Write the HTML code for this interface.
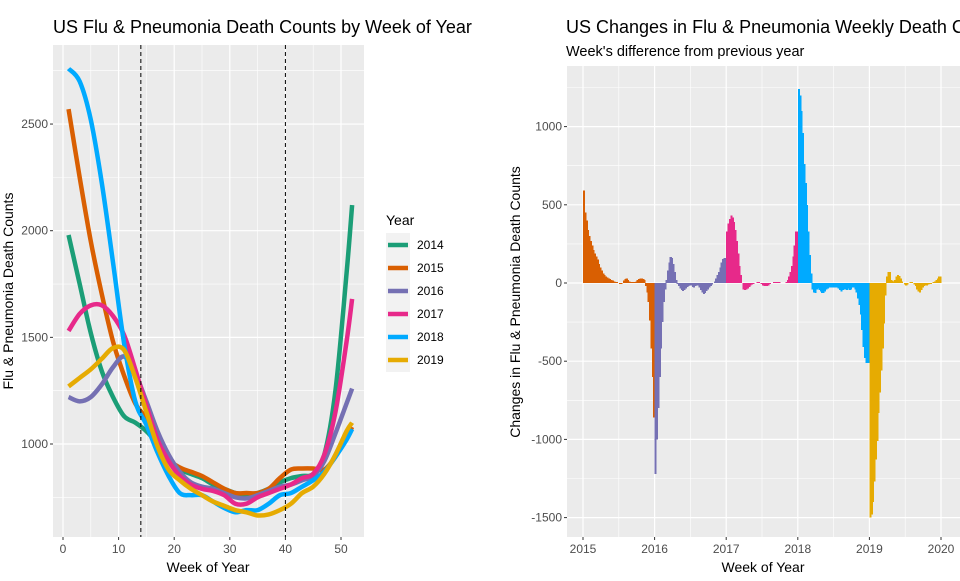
<!DOCTYPE html>
<html><head><meta charset="utf-8"><style>
body{margin:0;background:#fff;width:960px;height:576px;overflow:hidden;font-family:"Liberation Sans",Arial,sans-serif}
svg text{font-family:"Liberation Sans",Arial,sans-serif}
</style></head><body>
<svg id="chart" width="960" height="576" viewBox="0 0 960 576" xmlns="http://www.w3.org/2000/svg">
<g id="left"></g>
<g id="right"></g>
</svg>
<script>
const weeks=[1,3,5,7,9,11,13,15,17,19,21,23,25,27,29,31,33,35,37,39,41,43,45,47,49,51,52];
const years=["2014","2015","2016","2017","2018","2019"];
const v2014=[1980,1750,1520,1340,1220,1130,1100,1060,1000,920,880,860,840,810,790,770,760,770,790,820,840,850,860,950,1250,1800,2120];
const v2015=[2570,2250,1950,1700,1480,1320,1190,1120,1030,930,890,870,850,820,790,770,770,770,790,840,880,885,885,880,940,1030,1080];
const v2016=[1220,1200,1220,1280,1360,1410,1330,1200,1060,950,870,820,800,790,770,750,745,760,780,800,810,830,850,920,1050,1190,1260];
const v2017=[1530,1610,1650,1650,1600,1510,1350,1180,1020,920,850,810,790,780,760,720,720,750,770,790,810,840,860,950,1150,1480,1680];
const v2018=[2760,2700,2520,2220,1850,1470,1200,1090,960,850,770,760,760,730,700,680,690,690,720,760,770,800,830,870,940,1020,1070];
const v2019=[1270,1310,1350,1400,1450,1440,1310,1150,990,880,830,790,760,730,710,690,680,665,670,690,720,770,800,860,950,1060,1100];
const xTicks=[0,10,20,30,40,50];
const yTicks=[1000,1500,2000,2500];
const vlines=[14,40];

const diffYears=[2015,2016,2017,2018,2019];
const d2015=[590,450,400,340,300,270,240,210,190,170,150,120,100,80,60,50,40,35,30,25,20,15,10,5,5,0,-5,-5,0,15,25,30,20,10,5,5,5,5,10,20,25,30,30,25,20,-20,-60,-120,-240,-420,-600,-860];
const d2016=[-1220,-1000,-800,-600,-420,-250,-120,-40,20,80,130,165,160,120,70,20,-5,-20,-35,-45,-50,-45,-35,-25,-20,-15,-15,-25,-30,-20,-15,-15,-30,-45,-60,-70,-65,-50,-40,-30,-20,-10,0,10,30,50,70,100,130,155,160,160];
const d2017=[330,380,410,430,420,390,340,270,190,110,50,0,-40,-45,-40,-35,-25,-15,-10,-5,0,0,5,5,0,-5,-15,-20,-20,-20,-15,-5,0,0,5,5,5,5,5,0,0,0,0,5,20,40,70,110,170,240,330,330];
const d2018=[1240,1200,1100,960,760,640,500,330,180,60,-40,-60,-65,-40,-35,-45,-55,-65,-65,-55,-40,-35,-30,-30,-30,-30,-30,-30,-30,-35,-45,-55,-45,-40,-40,-45,-35,-45,-40,-30,-30,-40,-60,-100,-140,-200,-300,-410,-480,-510,-510,-510];
const d2019=[-1500,-1480,-1400,-1270,-1130,-1010,-830,-700,-560,-420,-260,-80,40,70,70,20,15,10,20,40,50,45,30,10,0,-10,-15,-10,0,5,5,0,-10,-20,-40,-55,-60,-45,-30,-20,-15,-15,-10,-5,-5,0,5,10,20,30,40,40];
const rxTicks=[2015,2016,2017,2018,2019,2020];
const ryTicks=[-1500,-1000,-500,0,500,1000];

const NS="http://www.w3.org/2000/svg";
function mk(p,t,a){const e=document.createElementNS(NS,t);for(const k in a)e.setAttribute(k,a[k]);p.appendChild(e);return e;}
const colors=["#1b9e77","#d95f02","#7570b3","#e7298a","#00aaff","#e6ab02"];
const series=[v2014,v2015,v2016,v2017,v2018,v2019];

// LEFT
const L=document.getElementById('left');
const lx=w=>63+w*5.56, ly=v=>444-(v-1000)*0.2133;
const LP={l:53,r:364,t:45,b:537};
let bg=mk(L,'rect',{x:LP.l,y:LP.t,width:LP.r-LP.l,height:LP.b-LP.t,fill:'#ebebeb'});


for(let v=750;v<=2750;v+=500){mk(L,'line',{x1:LP.l,x2:LP.r,y1:ly(v),y2:ly(v),stroke:'#fff','stroke-width':0.6});}
for(let w=5;w<=55;w+=10){if(lx(w)<LP.r)mk(L,'line',{x1:lx(w),x2:lx(w),y1:LP.t,y2:LP.b,stroke:'#fff','stroke-width':0.6});}
yTicks.forEach(v=>{mk(L,'line',{x1:LP.l,x2:LP.r,y1:ly(v),y2:ly(v),stroke:'#fff','stroke-width':1.2});
 mk(L,'line',{x1:LP.l-3,x2:LP.l,y1:ly(v),y2:ly(v),stroke:'#333'});
 const t=mk(L,'text',{x:LP.l-5,y:ly(v)+4,'text-anchor':'end','font-size':12,fill:'#4d4d4d'});t.textContent=v;
 
 });
xTicks.forEach(w=>{mk(L,'line',{x1:lx(w),x2:lx(w),y1:LP.t,y2:LP.b,stroke:'#fff','stroke-width':1.2});
 mk(L,'line',{x1:lx(w),x2:lx(w),y1:LP.b,y2:LP.b+3,stroke:'#333'});
 const t=mk(L,'text',{x:lx(w),y:LP.b+16,'text-anchor':'middle','font-size':12,fill:'#4d4d4d'});t.textContent=w;
 
 });
function smooth(pts){let d=`M${pts[0][0]},${pts[0][1]}`;for(let i=0;i<pts.length-1;i++){const p0=pts[i-1]||pts[i],p1=pts[i],p2=pts[i+1],p3=pts[i+2]||p2;
 d+=` C${p1[0]+(p2[0]-p0[0])/6},${p1[1]+(p2[1]-p0[1])/6} ${p2[0]-(p3[0]-p1[0])/6},${p2[1]-(p3[1]-p1[1])/6} ${p2[0]},${p2[1]}`;}return d;}
series.forEach((s,i)=>{const pts=s.map((v,j)=>[lx(weeks[j]),ly(v)]);
 const p=mk(L,'path',{d:smooth(pts),fill:'none',stroke:colors[i],'stroke-width':4.5,'stroke-linejoin':'round'});
 
 });
vlines.forEach(w=>{const l=mk(L,'line',{x1:lx(w),x2:lx(w),y1:LP.t,y2:LP.b,stroke:'#000','stroke-width':1,'stroke-dasharray':'4,3'});
 
 });
let t=mk(L,'text',{x:53,y:33,'font-size':18,fill:'#000'});t.textContent='US Flu & Pneumonia Death Counts by Week of Year';


t=mk(L,'text',{x:208,y:572,'text-anchor':'middle','font-size':14,fill:'#000'});t.textContent='Week of Year';


t=mk(L,'text',{x:0,y:0,'text-anchor':'middle','font-size':14,fill:'#000',transform:'translate(13,291) rotate(-90)'});t.textContent='Flu & Pneumonia Death Counts';


// legend
t=mk(L,'text',{x:386,y:225,'font-size':14,fill:'#000'});t.textContent='Year';


mk(L,'rect',{x:386,y:233,width:24,height:139,fill:'#f2f2f2'});
years.forEach((y,i)=>{const g=mk(L,'g',{});
 
 
 const cy=245+i*23;
 mk(g,'line',{x1:388,x2:408,y1:cy,y2:cy,stroke:colors[i],'stroke-width':4.5});
 const tt=mk(g,'text',{x:417,y:cy+4,'font-size':12,fill:'#000'});tt.textContent=y;});

// RIGHT
const R=document.getElementById('right');
const rx=d=>583+(d-2015)*71.6, ry=v=>283-v*0.1564;
const RP={l:567,r:960,t:66,b:537};
bg=mk(R,'rect',{x:RP.l,y:RP.t,width:RP.r-RP.l,height:RP.b-RP.t,fill:'#ebebeb'});


for(let v=-1250;v<=1250;v+=500){mk(R,'line',{x1:RP.l,x2:RP.r,y1:ry(v),y2:ry(v),stroke:'#fff','stroke-width':0.6});}
for(let d=2015.5;d<2021;d+=1){if(rx(d)<RP.r)mk(R,'line',{x1:rx(d),x2:rx(d),y1:RP.t,y2:RP.b,stroke:'#fff','stroke-width':0.6});}
ryTicks.forEach(v=>{mk(R,'line',{x1:RP.l,x2:RP.r,y1:ry(v),y2:ry(v),stroke:'#fff','stroke-width':1.2});
 mk(R,'line',{x1:RP.l-3,x2:RP.l,y1:ry(v),y2:ry(v),stroke:'#333'});
 const tt=mk(R,'text',{x:RP.l-5,y:ry(v)+4,'text-anchor':'end','font-size':12,fill:'#4d4d4d'});tt.textContent=v;
 
 });
rxTicks.forEach(d=>{mk(R,'line',{x1:rx(d),x2:rx(d),y1:RP.t,y2:RP.b,stroke:'#fff','stroke-width':1.2});
 mk(R,'line',{x1:rx(d),x2:rx(d),y1:RP.b,y2:RP.b+3,stroke:'#333'});
 const tt=mk(R,'text',{x:rx(d),y:RP.b+16,'text-anchor':'middle','font-size':12,fill:'#4d4d4d'});tt.textContent=d;
 
 });
const diffs=[d2015,d2016,d2017,d2018,d2019];
const bw=71.6/52;
diffs.forEach((arr,i)=>{arr.forEach((v,j)=>{const d=diffYears[i]+j/52;
 const y0=ry(Math.max(v,0)),y1=ry(Math.min(v,0));
 const b=mk(R,'rect',{x:rx(d),y:y0,width:bw+0.7,height:Math.max(y1-y0,0.01),fill:colors[i+1],'shape-rendering':'crispEdges'});
 
 });});
t=mk(R,'text',{x:566,y:33,'font-size':18,fill:'#000'});t.textContent='US Changes in Flu & Pneumonia Weekly Death Counts';


t=mk(R,'text',{x:566,y:56,'font-size':14.5,fill:'#000'});t.textContent="Week's difference from previous year";


t=mk(R,'text',{x:763,y:572,'text-anchor':'middle','font-size':14,fill:'#000'});t.textContent='Week of Year';


t=mk(R,'text',{x:0,y:0,'text-anchor':'middle','font-size':14,fill:'#000',transform:'translate(520,302) rotate(-90)'});t.textContent='Changes in Flu & Pneumonia Death Counts';


</script>
</body></html>
